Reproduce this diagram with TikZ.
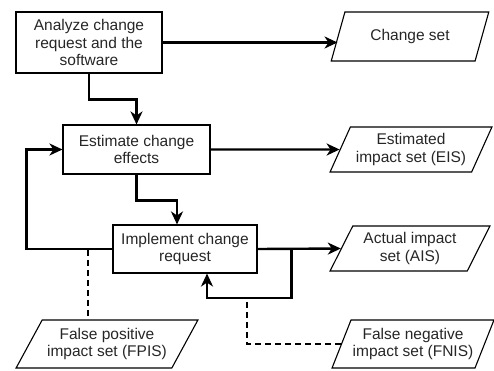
\documentclass[tikz,border=0pt]{standalone}
\usepackage{fontspec}
\setmainfont{Liberation Sans}
\usetikzlibrary{shapes.geometric,arrows.meta}

\begin{document}
\begin{tikzpicture}
  [
  x=1pt, y=-1pt,
  font=\fontsize{15.5}{17.5}\selectfont, line width=2.4pt,
  process/.style={rectangle, draw=black, line width=1.1pt, align=center, inner sep=0pt, text=black!85},
  dataset/.style={trapezium, trapezium left angle=60, trapezium right angle=120,
    trapezium stretches=true, draw=black, line width=1.1pt, align=center,
    inner sep=0pt, minimum height=48pt, minimum width=158pt, text=black!85},
  flow/.style={-{Stealth[length=13pt,width=12pt,inset=4pt]}},
  tie/.style={dash pattern=on 6pt off 4pt}
  ]

\useasboundingbox (0,0) rectangle (494,370);

% process steps
\node[process, minimum width=146pt, minimum height=61pt] (analyze) at (89,42.5) {Analyze change\\request and the\\software};
\node[process, minimum width=147pt, minimum height=49pt] (estimate) at (136.5,149.5) {Estimate change\\effects};
\node[process, minimum width=144pt, minimum height=48pt] (implement) at (185,249) {Implement change\\request};

% resulting sets
\node[dataset, minimum height=49pt] (changeset) at (410,36.5) {Change set};
\node[dataset, minimum height=45pt, minimum width=162pt] (eis) at (411,149.5) {Estimated\\impact set (EIS)};
\node[dataset, minimum height=45pt, minimum width=160pt] (ais) at (410,248.5) {Actual impact\\set (AIS)};
\node[dataset, trapezium left angle=53, trapezium right angle=127, minimum width=182pt] (fpis) at (107,344) {False positive\\impact set (FPIS)};
\node[dataset, minimum width=162pt] (fnis) at (413,344) {False negative\\impact set (FNIS)};

\draw[flow] (analyze.east) -- (analyze.east -| changeset.west);
\draw[flow] (analyze.south) -- ++(0,26) -| (estimate.north);
\draw[flow] (estimate.east) -- (eis.west);
\draw[flow] (estimate.south) -- ++(0,26) -| ([xshift=-8pt]implement.north);
\draw[flow] (implement.east) -- (ais.west);

% loops back
\draw[flow] (implement.east) -- ++(34,0) -- ++(0,49) -| ([xshift=22pt]implement.south);
\draw[flow] (implement.west) -- ++(-86,0) |- (estimate.west);

% false positives / negatives
\coordinate (fpistap) at (88,250);
\coordinate (fnistap) at (247,299);
\draw[tie] (fpistap) -- (fpistap |- fpis.north);
\draw[tie] (fnis.west) -| (fnistap);

\end{tikzpicture}
\end{document}
